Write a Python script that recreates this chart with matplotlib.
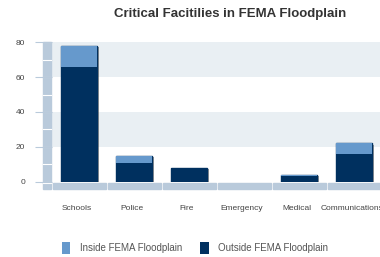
import numpy as np
import matplotlib.pyplot as plt
import matplotlib.patheffects as pe
from matplotlib.patches import Rectangle

# data
categories = ["Schools", "Police", "Fire", "Emergency", "Medical", "Communications"]
outside = [66, 11, 8, 0, 3, 16]
inside = [12, 4, 0, 0, 1, 6]
yticks = [0, 20, 40, 60, 80]

c_in = "#6699cc"
c_out = "#00305f"
c_wall = "#b9cadb"
c_band = "#e9eff3"

plt.rcParams['font.family'] = ['Liberation Sans', 'DejaVu Sans']

fig = plt.figure(figsize=(3.8, 2.57), dpi=100)
ax = fig.add_axes([52 / 380, 1 - 181.7 / 257, 330 / 380, 139.4 / 257])
ax.set_xlim(0, 6)
ax.set_ylim(0, 80)

# alternating bands
ax.axhspan(20, 40, color=c_band, zorder=0, lw=0)
ax.axhspan(60, 80, color=c_band, zorder=0, lw=0)

x = np.arange(len(categories)) + 0.49
shadow = [pe.SimplePatchShadow(offset=(1.2, -1.2), shadow_rgbFace="#555555", alpha=0.6), pe.Normal()]
b1 = ax.bar(x, outside, width=0.655, color=c_out, zorder=3, label="Outside FEMA Floodplain")
b2 = ax.bar(x, inside, bottom=outside, width=0.655, color=c_in, zorder=3, label="Inside FEMA Floodplain")
for r1, r2 in zip(b1, b2):
    h = r1.get_height() + r2.get_height()
    if h > 0:
        s = Rectangle((r1.get_x(), 0), r1.get_width(), h, color=c_out, zorder=2)
        s.set_path_effects(shadow)
        ax.add_patch(s)

# floor and wall
for i in range(len(categories)):
    ax.add_patch(Rectangle((i + 0.02, -4.4), 0.96, 3.8, color=c_wall, clip_on=False, zorder=1))
ax.add_patch(Rectangle((-0.164, -4.4), 0.146, 84.4, color=c_wall, clip_on=False, zorder=1))
for yy in range(0, 81, 10):
    ax.plot([-0.164, -0.018], [yy, yy], color="white", lw=0.8, clip_on=False, zorder=1.5)
ax.plot([-0.164, -0.018], [-0.6, -0.6], color="white", lw=0.8, clip_on=False, zorder=1.5)

for s in ax.spines.values():
    s.set_visible(False)
ax.set_yticks(yticks)
ax.tick_params(axis="y", length=12.2, color=c_wall, width=0.8, pad=7, labelsize=6, labelcolor="#444444")
ax.set_xticks(np.arange(len(categories)) + 0.45)
ax.set_xticklabels(categories)
ax.tick_params(axis="x", length=0, pad=17, labelsize=6, labelcolor="#444444")

fig.text(230 / 380, 1 - 14 / 257, "Critical Facitilies in FEMA Floodplain", ha="center", va="center",
         fontsize=9.5, fontweight="bold", color="#333333")

fig.legend(handles=[b2, b1], loc="center", bbox_to_anchor=(0.513, 0.035), ncol=2, frameon=False,
           fontsize=7, handlelength=0.85, handleheight=1.55, handletextpad=1.0, columnspacing=1.9,
           labelcolor="#555555")

fig.savefig("out.png", dpi=100)
